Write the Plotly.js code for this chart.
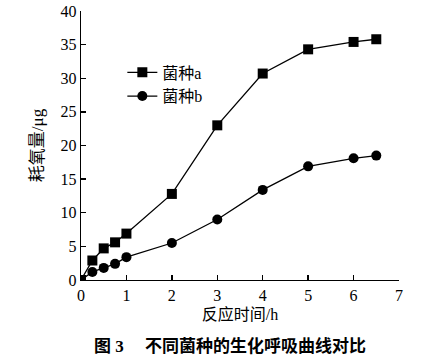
<!DOCTYPE html>
<html><head><meta charset="utf-8">
<script src="https://cdn.plot.ly/plotly-3.0.1.min.js"></script>
<style>html,body{margin:0;padding:0;background:#fff}</style>
</head><body>
<div id="chart" style="width:441px;height:363px"></div>
<script>
const timeH = [0, 0.25, 0.5, 0.75, 1, 2, 3, 4, 5, 6, 6.5];
const strainA = [0, 2.9, 4.7, 5.6, 6.9, 12.8, 23.0, 30.7, 34.3, 35.4, 35.8];
const strainB = [0, 1.2, 1.8, 2.4, 3.4, 5.5, 9.0, 13.4, 16.9, 18.1, 18.5];
const seriesNames = ['菌种a', '菌种b'];
const xTicks = [0, 1, 2, 3, 4, 5, 6, 7];
const yTicks = [0, 5, 10, 15, 20, 25, 30, 35, 40];
const xTitle = '反应时间/h';
const yTitle = '耗氧量/μg';
const caption = '图 3　 不同菌种的生化呼吸曲线对比';

const FONT = "'Liberation Serif', 'Noto Sans CJK SC', serif";
const traces = [
  {x: timeH, y: strainA, name: seriesNames[0], mode: 'lines+markers', type: 'scatter',
   line: {color: '#000', width: 1.3}, marker: {symbol: 'square', size: 10, color: '#000'}},
  {x: timeH, y: strainB, name: seriesNames[1], mode: 'lines+markers', type: 'scatter',
   line: {color: '#000', width: 1.3}, marker: {symbol: 'circle', size: 10, color: '#000'}}
];
const axisCommon = {showline: true, linecolor: '#000', linewidth: 1.3, ticks: 'inside', ticklen: 5,
  tickwidth: 1.3, tickcolor: '#000', showgrid: false, zeroline: false, mirror: false,
  tickfont: {family: FONT, size: 16, color: '#000'}};
const layout = {
  width: 441, height: 363,
  margin: {l: 81, r: 42, t: 11, b: 83},
  paper_bgcolor: '#fff', plot_bgcolor: '#fff',
  font: {family: FONT, color: '#000'},
  showlegend: true,
  legend: {x: 0.13, y: 0.835, xanchor: 'left', yanchor: 'top', bgcolor: 'rgba(0,0,0,0)',
    font: {family: FONT, size: 16, color: '#000'}, tracegroupgap: 0},
  xaxis: Object.assign({}, axisCommon, {range: [0, 7], tickvals: xTicks,
    title: {text: xTitle, font: {family: FONT, size: 16, color: '#000'}, standoff: 6}}),
  yaxis: Object.assign({}, axisCommon, {range: [0, 40], tickvals: yTicks,
    title: {text: yTitle, font: {family: FONT, size: 17, color: '#000'}, standoff: 12}}),
  annotations: [{text: '<b>' + caption + '</b>', xref: 'paper', yref: 'paper', x: 0.47, y: -0.245,
    xanchor: 'center', yanchor: 'middle', showarrow: false,
    font: {family: FONT, size: 17, color: '#000'}}]
};
Plotly.newPlot('chart', traces, layout, {displayModeBar: false, staticPlot: true});
</script>
</body></html>
